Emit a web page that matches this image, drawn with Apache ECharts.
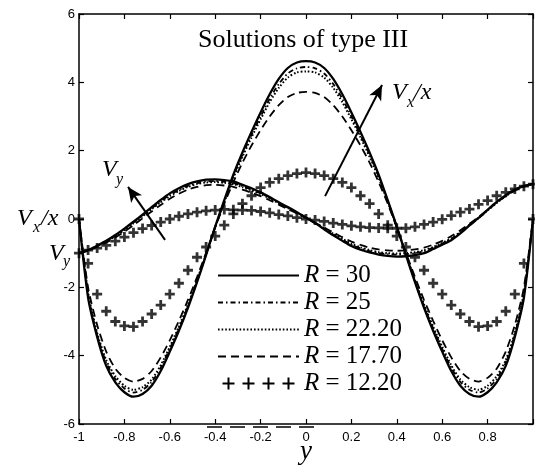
<!DOCTYPE html>
<html><head><meta charset="utf-8">
<script src="https://cdn.jsdelivr.net/npm/echarts@6/dist/echarts.min.js"></script>
<style>html,body{margin:0;padding:0;background:#fff}#c{width:535px;height:470px}</style>
</head><body><div id="c"></div>
<script>
// ---- data ----
const yPos = [-1,-0.96,-0.92,-0.88,-0.84,-0.8,-0.76,-0.72,-0.68,-0.64,-0.6,-0.56,-0.52,-0.48,-0.44,-0.4,-0.36,-0.32,-0.28,-0.24,-0.2,-0.16,-0.12,-0.08,-0.04,0,0.04,0.08,0.12,0.16,0.2,0.24,0.28,0.32,0.36,0.4,0.44,0.48,0.52,0.56,0.6,0.64,0.68,0.72,0.76,0.8,0.84,0.88,0.92,0.96,1];
const seriesNames = ['R = 30','R = 25','R = 22.20','R = 17.70','R = 12.20'];
const vxR30 = [0,-2.3,-3.45,-4.3,-4.78,-5.07,-5.2,-5.12,-4.88,-4.45,-3.88,-3.27,-2.6,-1.85,-1.05,-0.22,0.55,1.3,1.95,2.55,3.12,3.65,4.1,4.42,4.58,4.62,4.58,4.42,4.1,3.65,3.12,2.55,1.95,1.3,0.55,-0.22,-1.05,-1.85,-2.6,-3.27,-3.88,-4.45,-4.88,-5.12,-5.2,-5.07,-4.78,-4.3,-3.45,-2.3,0];
const vxR25 = [0,-2.2,-3.38,-4.2,-4.68,-4.96,-5.08,-5.0,-4.77,-4.35,-3.8,-3.2,-2.55,-1.82,-1.04,-0.23,0.52,1.25,1.88,2.46,3.0,3.52,3.95,4.26,4.41,4.45,4.41,4.26,3.95,3.52,3.0,2.46,1.88,1.25,0.52,-0.23,-1.04,-1.82,-2.55,-3.2,-3.8,-4.35,-4.77,-5.0,-5.08,-4.96,-4.68,-4.2,-3.38,-2.2,0];
const vxR222 = [0,-2.15,-3.33,-4.13,-4.6,-4.88,-5.0,-4.92,-4.7,-4.28,-3.74,-3.15,-2.5,-1.79,-1.02,-0.23,0.5,1.2,1.82,2.39,2.92,3.42,3.84,4.14,4.29,4.32,4.29,4.14,3.84,3.42,2.92,2.39,1.82,1.2,0.5,-0.23,-1.02,-1.79,-2.5,-3.15,-3.74,-4.28,-4.7,-4.92,-5.0,-4.88,-4.6,-4.13,-3.33,-2.15,0];
const vxR177 = [0,-2.0,-3.1,-3.88,-4.38,-4.65,-4.76,-4.68,-4.45,-4.05,-3.55,-2.98,-2.37,-1.7,-0.98,-0.25,0.45,1.08,1.65,2.15,2.6,3.0,3.33,3.57,3.69,3.72,3.69,3.57,3.33,3.0,2.6,2.15,1.65,1.08,0.45,-0.25,-0.98,-1.7,-2.37,-2.98,-3.55,-4.05,-4.45,-4.68,-4.76,-4.65,-4.38,-3.88,-3.1,-2.0,0];
const vxR122 = [0,-1.3,-2.2,-2.7,-3.0,-3.13,-3.15,-3.0,-2.78,-2.52,-2.2,-1.88,-1.5,-1.12,-0.82,-0.5,-0.18,0.15,0.45,0.68,0.92,1.07,1.18,1.27,1.33,1.36,1.33,1.27,1.18,1.07,0.92,0.68,0.45,0.15,-0.18,-0.5,-0.82,-1.12,-1.5,-1.88,-2.2,-2.52,-2.78,-3.0,-3.15,-3.13,-3.0,-2.7,-2.2,-1.3,0];
const vyR30 = [-1.0,-0.91,-0.78,-0.64,-0.47,-0.28,-0.08,0.13,0.35,0.56,0.75,0.9,1.02,1.1,1.15,1.16,1.14,1.1,1.0,0.9,0.78,0.64,0.49,0.35,0.2,0.04,-0.12,-0.3,-0.48,-0.64,-0.79,-0.9,-0.98,-1.04,-1.08,-1.1,-1.09,-1.06,-1.0,-0.88,-0.75,-0.62,-0.42,-0.19,0.03,0.27,0.5,0.7,0.86,0.97,1.03];
const vyR25 = [-1.0,-0.91,-0.79,-0.65,-0.49,-0.3,-0.1,0.1,0.31,0.52,0.7,0.85,0.97,1.05,1.1,1.11,1.09,1.05,0.96,0.86,0.75,0.62,0.47,0.33,0.19,0.04,-0.12,-0.28,-0.45,-0.61,-0.75,-0.86,-0.94,-1.0,-1.03,-1.04,-1.03,-1.0,-0.94,-0.84,-0.72,-0.58,-0.39,-0.18,0.03,0.26,0.48,0.68,0.85,0.96,1.03];
const vyR222 = [-1.0,-0.92,-0.8,-0.66,-0.5,-0.32,-0.12,0.08,0.29,0.49,0.67,0.82,0.94,1.02,1.07,1.08,1.06,1.02,0.93,0.84,0.73,0.6,0.46,0.32,0.18,0.04,-0.11,-0.27,-0.43,-0.58,-0.72,-0.83,-0.91,-0.97,-1.0,-1.01,-1.0,-0.97,-0.91,-0.82,-0.7,-0.56,-0.38,-0.17,0.03,0.25,0.47,0.67,0.84,0.96,1.03];
const vyR177 = [-1.0,-0.93,-0.82,-0.69,-0.54,-0.37,-0.18,0.02,0.22,0.41,0.59,0.74,0.86,0.94,0.99,1.0,0.98,0.94,0.86,0.77,0.67,0.55,0.42,0.29,0.16,0.03,-0.11,-0.25,-0.39,-0.53,-0.66,-0.76,-0.84,-0.89,-0.92,-0.93,-0.92,-0.89,-0.84,-0.75,-0.64,-0.5,-0.33,-0.14,0.06,0.27,0.48,0.67,0.83,0.95,1.02];
const vyR122 = [-1.0,-0.91,-0.85,-0.77,-0.65,-0.53,-0.4,-0.28,-0.19,-0.09,0.0,0.08,0.15,0.2,0.24,0.26,0.28,0.27,0.26,0.25,0.22,0.18,0.13,0.09,0.04,0.0,-0.03,-0.07,-0.12,-0.16,-0.2,-0.23,-0.25,-0.26,-0.27,-0.27,-0.27,-0.23,-0.16,-0.09,-0.01,0.1,0.2,0.29,0.43,0.54,0.68,0.78,0.88,0.96,1.02];
const xTicks = [-1,-0.8,-0.6,-0.4,-0.2,0,0.2,0.4,0.6,0.8];
const arrowVx = [[0.084,0.67],[0.335,3.92]];
const arrowVy = [[-0.621,-0.61],[-0.784,0.94]];

// ---- chart ----
const pts = v => yPos.map((x,i)=>[x, v[i]]);
const PLUS = 'path://M3.6,0H6.4V3.6H10V6.4H6.4V10H3.6V6.4H0V3.6H3.6Z';
const PLUS4 = 'path://M15,0H17V5H22V7H17V12H15V7H10V5H15Z M35,0H37V5H42V7H37V12H35V7H30V5H35Z M55,0H57V5H62V7H57V12H55V7H50V5H55Z M75,0H77V5H82V7H77V12H75V7H70V5H75Z';
const styles = [
  {width:2.3, type:'solid'},
  {width:1.8, type:[5,3,1.5,3]},
  {width:2.0, type:[1.6,2]},
  {width:1.8, type:[8,5]}
];
const vxSets = [vxR30, vxR25, vxR222, vxR177];
const vySets = [vyR30, vyR25, vyR222, vyR177];
const series = [];
for (let k=0;k<4;k++){
  [vxSets[k], vySets[k]].forEach((arr, j) => {
    const s = {
      name: seriesNames[k], type:'line', data: pts(arr), symbol:'none', showSymbol:false, smooth:0.25,
      lineStyle:{color:'#000', width:styles[k].width, type:styles[k].type},
      itemStyle:{color:'#000'}, silent:true, animation:false, z: 5-k
    };
    if (k===0 && j===0) {
      s.markLine = {
        silent:true, symbol:['none','arrow'], symbolSize:[10,15], animation:false,
        label:{show:false}, lineStyle:{color:'#000', width:2, type:'solid'},
        data:[ [{coord:arrowVx[0]},{coord:arrowVx[1]}], [{coord:arrowVy[0]},{coord:arrowVy[1]}] ]
      };
    }
    series.push(s);
  });
}
[vxR122, vyR122].forEach(arr => {
  series.push({
    name: seriesNames[4], type:'scatter', data: pts(arr), symbol: PLUS, symbolSize: 10,
    itemStyle:{color:'#000'}, silent:true, animation:false, z:6
  });
});

const serif = 'Liberation Serif';
function lbl(x, y, text, size, italic){
  return {type:'text', x:x, y:y, silent:true, z:100,
    style:{text:text, fill:'#000', font:(italic?'italic ':'')+size+'px "'+serif+'"', verticalAlign:'middle', align:'left'}};
}
const graphics = [
  lbl(198, 40, 'Solutions of type III', 26, false),
  lbl(17, 219, 'V', 24, true), lbl(33, 228, 'x', 16, true), lbl(41, 219, '/x', 24, true),
  lbl(49, 254, 'V', 24, true), lbl(63, 262, 'y', 16, true),
  lbl(392, 93, 'V', 24, true), lbl(407, 103, 'x', 16, true), lbl(414, 93, '/x', 24, true),
  lbl(102, 170, 'V', 24, true), lbl(116, 180, 'y', 16, true),
  {type:'line', silent:true, shape:{x1:207,y1:427,x2:318,y2:427}, style:{stroke:'#000', lineWidth:1.5, lineDash:[15,8]}}
];

const chart = echarts.init(document.getElementById('c'), null, {renderer:'canvas'});
const tickFmt = v => (Math.abs(v-1)<1e-9 ? '' : String(+v.toFixed(1)));
chart.setOption({
  animation:false,
  backgroundColor:'#fff',
  grid:{left:79, right:2, top:14, bottom:46, containLabel:false, outerBoundsMode:'none'},
  xAxis:[
    {type:'value', min:-1, max:1, interval:0.2, position:'bottom',
     axisLine:{show:true, onZero:false, lineStyle:{color:'#000', width:1.5}},
     axisTick:{show:true, inside:true, length:5, lineStyle:{color:'#000', width:1.2}},
     axisLabel:{show:true, margin:7, color:'#000', fontSize:13, fontFamily:'Liberation Sans', formatter:v=>xTicks.some(t=>Math.abs(t-v)<1e-9)?tickFmt(v):''},
     splitLine:{show:false},
     name:'y', nameLocation:'middle', nameGap:14, nameMoveOverlap:false,
     nameTextStyle:{fontFamily:serif, fontStyle:'italic', fontSize:27, color:'#000'}},
    {type:'value', min:-1, max:1, interval:0.2, position:'top',
     axisLine:{show:true, onZero:false, lineStyle:{color:'#000', width:1.5}},
     axisTick:{show:true, inside:true, length:5, lineStyle:{color:'#000', width:1.2}},
     axisLabel:{show:false}, splitLine:{show:false}}
  ],
  yAxis:[
    {type:'value', min:-6, max:6, interval:2, position:'left',
     axisLine:{show:true, onZero:false, lineStyle:{color:'#000', width:1.5}},
     axisTick:{show:true, inside:true, length:5, lineStyle:{color:'#000', width:1.2}},
     axisLabel:{margin:4, color:'#000', fontSize:13, fontFamily:'Liberation Sans'},
     splitLine:{show:false}},
    {type:'value', min:-6, max:6, interval:2, position:'right',
     axisLine:{show:true, onZero:false, lineStyle:{color:'#000', width:1.5}},
     axisTick:{show:true, inside:true, length:5, lineStyle:{color:'#000', width:1.2}},
     axisLabel:{show:false}, splitLine:{show:false}}
  ],
  legend:{
    orient:'vertical', left:212, top:257, itemWidth:81, itemHeight:12, itemGap:0,
    selectedMode:false, itemStyle:{opacity:0},
    data: seriesNames.map((n,i)=> i===4 ? {name:n, icon:PLUS4, itemStyle:{opacity:1, color:'#000'}} : {name:n}),
    formatter: n => '{i|R}' + n.slice(1),
    textStyle:{fontFamily:serif, fontSize:25, color:'#000', lineHeight:27,
      rich:{i:{fontFamily:serif, fontStyle:'italic', fontSize:25, color:'#000', lineHeight:27}}}
  },
  series: series,
  graphic: graphics
});
</script></body></html>
